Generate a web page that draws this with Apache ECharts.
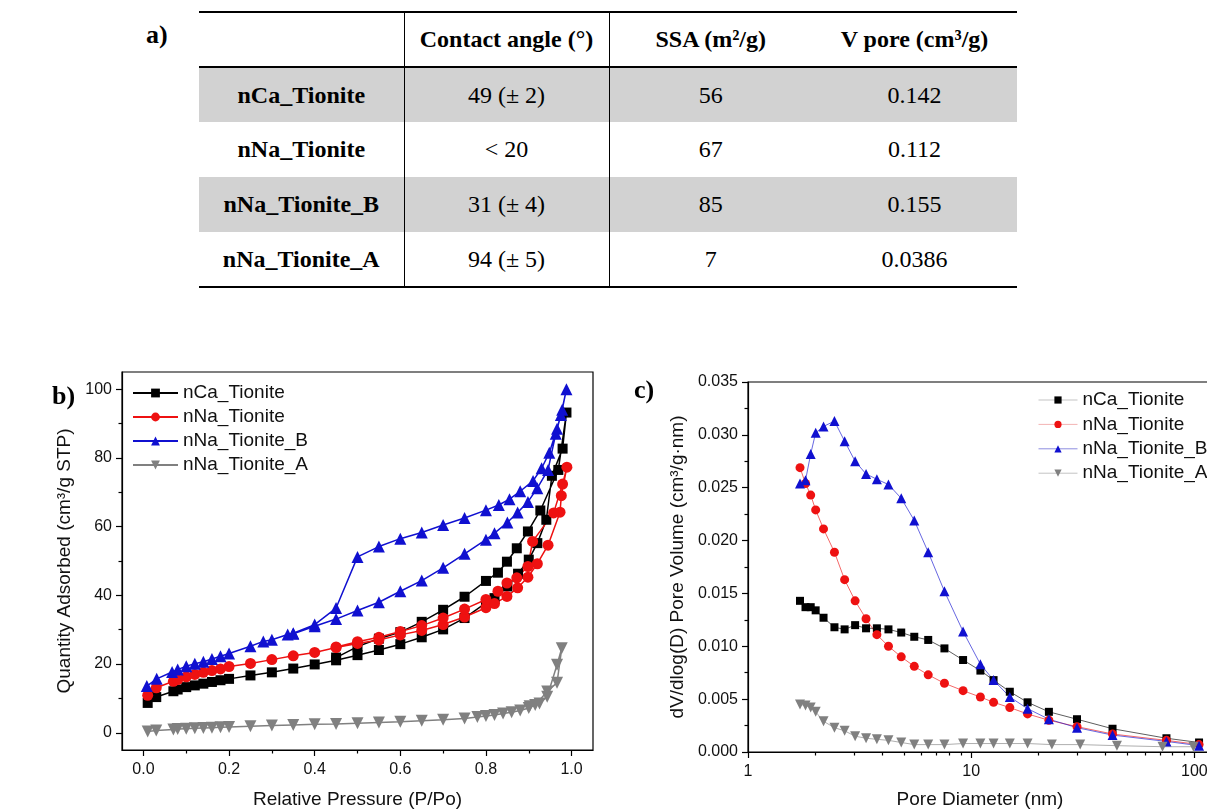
<!DOCTYPE html>
<html>
<head>
<meta charset="utf-8">
<script src="https://cdn.jsdelivr.net/npm/echarts@6/dist/echarts.min.js"></script>
<style>
  html, body { margin: 0; padding: 0; background: #fff; }
  #page { position: relative; width: 1207px; height: 809px; overflow: hidden; }
  .tag { position: absolute; font-family: "Liberation Serif", serif; font-weight: bold; font-size: 26px; }
  table.props {
    position: absolute; left: 199px; top: 11px; width: 818px;
    border-collapse: collapse; table-layout: fixed;
    font-family: "Liberation Serif", serif; font-size: 24px; color: #000;
  }
  table.props th, table.props td { text-align: center; padding: 0; font-family: "Liberation Serif", serif; }
  table.props thead tr { height: 55px; border-top: 2px solid #000; border-bottom: 2px solid #000; }
  table.props tbody tr { height: 55px; }
  table.props tbody tr.shade { background: #d2d2d2; }
  table.props tbody tr:last-child { border-bottom: 2px solid #000; }
  table.props .c0, table.props .c1 { border-right: 1.5px solid #000; }
  table.props td { font-weight: normal; }
  table.props td.name { font-weight: bold; }
  #iso { position: absolute; left: 0; top: 360px; width: 620px; height: 449px; }
  #pore { position: absolute; left: 620px; top: 360px; width: 587px; height: 449px; }
</style>
</head>
<body>
<div id="page">
  <div class="tag" style="left:146px; top:20px;">a)</div>
  <table class="props" id="props">
    <colgroup><col style="width:205px"><col style="width:205px"><col style="width:203px"><col style="width:205px"></colgroup>
    <thead><tr id="head"></tr></thead>
    <tbody id="body"></tbody>
  </table>
  <div id="iso"></div>
  <div id="pore"></div>
</div>
<script>
// ---- table a) ----
const tableHeaders = ['', 'Contact angle (°)', 'SSA (m²/g)', 'V pore (cm³/g)']
const sampleNames = ['nCa_Tionite', 'nNa_Tionite', 'nNa_Tionite_B', 'nNa_Tionite_A']
const contactAngles = ['49 (± 2)', '< 20', '31 (± 4)', '94 (± 5)']
const ssaValues = ['56', '67', '85', '7']
const poreVolumes = ['0.142', '0.112', '0.155', '0.0386']

// ---- b) N2 isotherms (adsorption then desorption, in measured order) ----
const caP = [0.01, 0.03, 0.07, 0.08, 0.10, 0.12, 0.14, 0.16, 0.18, 0.20, 0.25, 0.30, 0.35, 0.40, 0.45, 0.50, 0.55, 0.60, 0.65, 0.70, 0.75, 0.80, 0.82, 0.85, 0.875, 0.90, 0.92, 0.941, 0.954, 0.979, 0.988,
  0.969, 0.927, 0.898, 0.872, 0.849, 0.828, 0.80, 0.75, 0.70, 0.65, 0.60, 0.55, 0.50, 0.45]
const caQ = [8.7, 10.4, 12.1, 12.6, 13.3, 13.8, 14.3, 14.8, 15.3, 15.7, 16.7, 17.6, 18.7, 19.9, 21.1, 22.6, 24.1, 25.8, 27.8, 30.1, 33.4, 37.8, 39.2, 42.6, 46.3, 50.4, 55.2, 62.0, 74.8, 82.7, 93.2,
  76.5, 64.7, 58.6, 53.7, 49.8, 46.6, 44.2, 39.6, 35.8, 32.3, 29.3, 27.4, 25.1, 21.9]

const naP = [0.01, 0.03, 0.07, 0.08, 0.10, 0.12, 0.14, 0.16, 0.18, 0.20, 0.25, 0.30, 0.35, 0.40, 0.45, 0.50, 0.55, 0.60, 0.65, 0.70, 0.75, 0.80, 0.82, 0.849, 0.874, 0.898, 0.92, 0.945, 0.973, 0.976, 0.989,
  0.979, 0.958, 0.909, 0.898, 0.872, 0.849, 0.828, 0.80, 0.75, 0.70, 0.65, 0.60, 0.55, 0.50, 0.45]
const naQ = [10.9, 13.1, 15.0, 15.5, 16.3, 17.0, 17.6, 18.1, 18.6, 19.3, 20.2, 21.3, 22.4, 23.4, 24.8, 26.0, 27.0, 28.5, 29.8, 31.5, 33.7, 36.4, 37.6, 39.7, 42.2, 45.3, 49.2, 54.6, 64.2, 69.0, 77.3,
  72.4, 64.0, 55.7, 48.4, 45.1, 43.6, 41.2, 38.8, 36.0, 33.4, 31.2, 29.5, 27.8, 26.5, 25.0]

const naBP = [0.008, 0.031, 0.067, 0.08, 0.10, 0.12, 0.14, 0.16, 0.18, 0.20, 0.25, 0.28, 0.30, 0.337, 0.35, 0.40, 0.45, 0.50, 0.55, 0.60, 0.65, 0.70, 0.75, 0.80, 0.82, 0.85, 0.874, 0.898, 0.92, 0.945, 0.963, 0.975, 0.988,
  0.978, 0.966, 0.948, 0.93, 0.91, 0.88, 0.855, 0.83, 0.80, 0.75, 0.70, 0.65, 0.60, 0.55, 0.50, 0.45, 0.40, 0.35]
const naBQ = [13.6, 15.7, 17.7, 18.4, 19.4, 20.1, 20.7, 21.5, 22.3, 23.1, 25.2, 26.6, 27.1, 28.6, 28.8, 31.0, 33.1, 35.6, 38.0, 41.2, 44.3, 48.0, 52.1, 56.2, 58.1, 61.2, 64.1, 67.2, 71.2, 76.5, 87.0, 92.5, 100.0,
  94.0, 88.5, 81.5, 77.0, 73.3, 70.3, 68.0, 66.3, 64.8, 62.5, 60.5, 58.3, 56.5, 54.2, 51.2, 36.3, 31.5, 29.0]

const naAP = [0.01, 0.03, 0.07, 0.08, 0.10, 0.12, 0.14, 0.16, 0.18, 0.20, 0.25, 0.30, 0.35, 0.40, 0.45, 0.50, 0.55, 0.60, 0.65, 0.70, 0.75, 0.78, 0.80, 0.82, 0.84, 0.86, 0.88, 0.90, 0.915, 0.943, 0.966, 0.977,
  0.966, 0.943, 0.925, 0.902]
const naAQ = [0.4, 0.7, 1.0, 1.1, 1.2, 1.3, 1.4, 1.5, 1.6, 1.7, 1.9, 2.1, 2.3, 2.5, 2.6, 2.8, 3.0, 3.2, 3.5, 3.8, 4.2, 4.6, 4.9, 5.2, 5.6, 6.0, 6.5, 7.2, 8.1, 12.0, 14.6, 24.6,
  19.8, 10.5, 8.5, 7.7]

const isoXTicks = [0, 0.2, 0.4, 0.6, 0.8, 1.0]
const isoXMinor = [0.1, 0.3, 0.5, 0.7, 0.9]
const isoYTicks = [0, 20, 40, 60, 80, 100]
const isoYMinor = [10, 30, 50, 70, 90]

// ---- c) BJH pore size distribution ----
const poreDiameter = [1.71, 1.81, 1.91, 2.01, 2.18, 2.44, 2.71, 3.02, 3.38, 3.78, 4.26, 4.86, 5.56, 6.42, 7.59, 9.2, 11.0, 12.6, 14.9, 17.9, 22.3, 29.8, 43, 75, 105]
const poreDiameterA = [1.71, 1.81, 1.91, 2.01, 2.18, 2.44, 2.71, 3.02, 3.38, 3.78, 4.26, 4.86, 5.56, 6.42, 7.59, 9.2, 11.0, 12.6, 14.9, 17.9, 23, 30.8, 45, 72, 99]
const caDV = [0.0143, 0.0137, 0.0137, 0.0134, 0.0127, 0.0118, 0.0116, 0.0120, 0.0117, 0.0117, 0.0116, 0.0113, 0.0109, 0.0106, 0.0098, 0.0087, 0.0077, 0.0068, 0.0057, 0.0047, 0.0038, 0.0031, 0.0022, 0.0013, 0.0009]
const naDV = [0.0269, 0.0254, 0.0243, 0.0229, 0.0211, 0.0189, 0.0163, 0.0143, 0.0126, 0.0111, 0.0100, 0.0090, 0.0081, 0.0073, 0.0065, 0.0058, 0.0052, 0.0047, 0.0042, 0.0036, 0.0030, 0.0024, 0.0017, 0.0011, 0.0007]
const naBDV = [0.0254, 0.0257, 0.0282, 0.0302, 0.0308, 0.0313, 0.0294, 0.0275, 0.0263, 0.0258, 0.0253, 0.0240, 0.0219, 0.0189, 0.0152, 0.0114, 0.0083, 0.0068, 0.0052, 0.0041, 0.0031, 0.0023, 0.0016, 0.0010, 0.0006]
const naADV = [0.0045, 0.0044, 0.0042, 0.0038, 0.0029, 0.0023, 0.0020, 0.0015, 0.0013, 0.0012, 0.0011, 0.0009, 0.0007, 0.0007, 0.0007, 0.0008, 0.0008, 0.0008, 0.0008, 0.0008, 0.0007, 0.0007, 0.0006, 0.0005, 0.0005]

const poreXTicks = [1, 10, 100]
const poreXMinor = [2, 3, 4, 5, 6, 7, 8, 9, 20, 30, 40, 50, 60, 70, 80, 90]

const colors = ['#000000', '#ee1111', '#1010d0', '#808080']
const poreLegendLines = ['#b4b4b4', '#f0a0a0', '#7070d8', '#b4b4b4']
const symbols = ['rect', 'circle', 'triangle', 'triangle']
const symbolSizes = [10, 11, 12, 12]
const symbolRotates = [0, 0, 0, 180]
const fontSans = '"Liberation Sans", Arial, sans-serif'

// build table
const head = document.getElementById('head')
tableHeaders.forEach((h, i) => {
  const th = document.createElement('th')
  th.className = 'c' + i
  th.textContent = h
  head.appendChild(th)
})
const body = document.getElementById('body')
sampleNames.forEach((n, r) => {
  const tr = document.createElement('tr')
  if (r % 2 === 0) tr.className = 'shade'
  const cells = [n, contactAngles[r], ssaValues[r], poreVolumes[r]]
  cells.forEach((c, i) => {
    const td = document.createElement('td')
    td.className = 'c' + i + (i === 0 ? ' name' : '')
    td.textContent = c
    tr.appendChild(td)
  })
  body.appendChild(tr)
})

function zip(xs, ys) {
  return xs.map((x, i) => [x, ys[i]])
}

const axisText = { color: '#111', fontSize: 16, fontFamily: fontSans }
const nameText = { color: '#111', fontSize: 19, fontFamily: fontSans }
const blackLine = { color: '#000', width: 1.2 }

// ---- chart b ----
const isoChart = echarts.init(document.getElementById('iso'))
const isoData = [zip(caP, caQ), zip(naP, naQ), zip(naBP, naBQ), zip(naAP, naAQ)]
isoChart.setOption({
  animation: false,
  grid: { left: 122, top: 12, width: 471, height: 378, outerBoundsMode: 'none', show: true, borderColor: '#000', borderWidth: 1.2 },
  graphic: [{ type: 'text', left: 52, top: 24, style: { text: 'b)', font: 'bold 26px "Liberation Serif"', fill: '#000' } }],
  legend: {
    orient: 'vertical', left: 127, top: 18, itemWidth: 45, itemHeight: 11, itemGap: 4,
    textStyle: { color: '#111', fontSize: 19, lineHeight: 20, fontFamily: fontSans },
    data: sampleNames
  },
  xAxis: [
    {
      type: 'value', min: -0.05, max: 1.05,
      axisLine: { onZero: false, lineStyle: blackLine },
      axisTick: { customValues: isoXTicks, length: 6, lineStyle: blackLine },
      axisLabel: Object.assign({ customValues: isoXTicks, margin: 12, formatter: v => v.toFixed(1) }, axisText),
      splitLine: { show: false },
      name: 'Relative Pressure (P/Po)', nameLocation: 'middle', nameGap: 40, nameTextStyle: nameText
    },
    {
      type: 'value', min: -0.05, max: 1.05, position: 'bottom',
      axisLine: { show: false, onZero: false },
      axisTick: { customValues: isoXMinor, length: 3.5, lineStyle: blackLine },
      axisLabel: { show: false },
      splitLine: { show: false }
    }
  ],
  yAxis: [
    {
      type: 'value', min: -5, max: 105,
      axisLine: { show: true, onZero: false, lineStyle: blackLine },
      axisTick: { show: true, customValues: isoYTicks, length: 6, lineStyle: blackLine },
      axisLabel: Object.assign({ customValues: isoYTicks, margin: 10 }, axisText),
      splitLine: { show: false },
      name: 'Quantity Adsorbed (cm³/g STP)', nameLocation: 'middle', nameGap: 44, nameTextStyle: nameText
    },
    {
      type: 'value', min: -5, max: 105, position: 'left',
      axisLine: { show: false, onZero: false },
      axisTick: { show: true, customValues: isoYMinor, length: 3.5, lineStyle: blackLine },
      axisLabel: { show: false },
      splitLine: { show: false }
    }
  ],
  series: sampleNames.map((n, i) => ({
    name: n,
    type: 'line',
    data: isoData[i],
    symbol: symbols[i],
    symbolSize: symbolSizes[i],
    symbolRotate: symbolRotates[i],
    itemStyle: { color: colors[i] },
    lineStyle: { color: colors[i], width: 1.5 }
  }))
})

// ---- chart c ----
const poreChart = echarts.init(document.getElementById('pore'))
const poreData = [zip(poreDiameter, caDV), zip(poreDiameter, naDV), zip(poreDiameter, naBDV), zip(poreDiameterA, naADV)]
poreChart.setOption({
  animation: false,
  grid: { left: 128, top: 22, right: -5, bottom: 57, outerBoundsMode: 'none', show: true, borderColor: '#000', borderWidth: 1.2 },
  graphic: [{ type: 'text', left: 14, top: 18, style: { text: 'c)', font: 'bold 26px "Liberation Serif"', fill: '#000' } }],
  legend: {
    orient: 'vertical', left: 413, top: 25, itemWidth: 39, itemHeight: 9, itemGap: 4.4,
    textStyle: { color: '#111', fontSize: 19, lineHeight: 20, fontFamily: fontSans },
    data: sampleNames.map((n, i) => ({ name: n, lineStyle: { color: poreLegendLines[i], width: 1 } }))
  },
  xAxis: [
    {
      type: 'log', logBase: 10, min: 1, max: 120,
      axisLine: { onZero: false, lineStyle: blackLine },
      axisTick: { customValues: poreXTicks, length: 6, lineStyle: blackLine },
      axisLabel: Object.assign({ customValues: poreXTicks, margin: 12 }, axisText),
      splitLine: { show: false },
      name: 'Pore Diameter (nm)', nameLocation: 'middle', nameGap: 38, nameTextStyle: nameText
    },
    {
      type: 'log', logBase: 10, min: 1, max: 120, position: 'bottom',
      axisLine: { show: false, onZero: false },
      axisTick: { customValues: poreXMinor, length: 3.5, lineStyle: blackLine },
      axisLabel: { show: false },
      splitLine: { show: false }
    }
  ],
  yAxis: {
    type: 'value', min: 0, max: 0.035, interval: 0.005,
    axisLine: { show: true, onZero: false, lineStyle: blackLine },
    axisTick: { show: true, length: 6, lineStyle: blackLine },
    minorTick: { show: true, splitNumber: 2, length: 3.5, lineStyle: blackLine },
    axisLabel: Object.assign({ margin: 10, formatter: v => v.toFixed(3) }, axisText),
    splitLine: { show: false },
    name: 'dV/dlog(D) Pore Volume (cm³/g·nm)', nameLocation: 'middle', nameGap: 53, nameTextStyle: nameText
  },
  series: sampleNames.map((n, i) => ({
    name: n,
    type: 'line',
    data: poreData[i],
    symbol: symbols[i],
    symbolSize: symbolSizes[i] - 2,
    symbolRotate: symbolRotates[i],
    itemStyle: { color: colors[i] },
    lineStyle: { color: colors[i], width: 0.8, opacity: 0.8 }
  }))
})
</script>
</body>
</html>
